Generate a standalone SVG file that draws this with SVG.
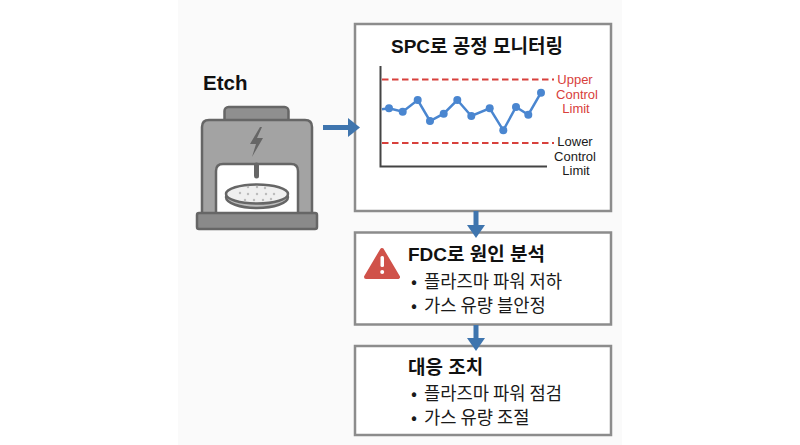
<svg xmlns="http://www.w3.org/2000/svg" width="800" height="445" viewBox="0 0 800 445">
<defs>
<style>
.k{font-family:"Liberation Sans","Noto Sans CJK KR",sans-serif}
.h{font-family:"Liberation Sans","Noto Sans CJK KR",sans-serif;font-weight:700;font-size:19px;fill:#111}
.b{font-family:"Noto Sans CJK KR",sans-serif;font-weight:400;font-size:17.700px;fill:#1a1a1a}
.box{fill:#fff;stroke:#8c8c8c;stroke-width:2.5}
.lim{font-family:"Liberation Sans",sans-serif;font-size:13px;text-anchor:middle}
.dash{stroke:#d8403c;stroke-width:2;stroke-dasharray:6.5 3.5;fill:none}
.ar{fill:#3f75ae}
.eq{stroke:#666;stroke-width:2.5}
</style>
</defs>
<rect width="800" height="445" fill="#fff"/>
<rect x="178" y="0" width="444" height="445" fill="#fafafa"/>
<g id="etch">
<text x="203" y="90" class="k" font-size="20.500" font-weight="700" fill="#111">Etch</text>
<rect x="224.500" y="107" width="64" height="16" rx="4" fill="#8f8f8f" class="eq"/>
<path d="M202 214V127q0-7 7-7h96q7 0 7 7v87z" fill="#a3a3a3" class="eq"/>
<path d="M216 214V171q0-7 7-7h68q7 0 7 7v43z" fill="#fff" class="eq"/>
<rect x="197" y="213" width="120" height="16" rx="2" fill="#8a8a8a" class="eq"/>
<path d="M260 127l-10 17h6l-4 13 11-19h-6l5-11z" fill="#666"/>
<line x1="256.500" y1="165" x2="256.500" y2="176" stroke="#666" stroke-width="5" stroke-linecap="round"/>
<ellipse cx="257" cy="197" rx="31" ry="11" fill="#bdbdbd" class="eq"/>
<ellipse cx="257" cy="194" rx="31" ry="9.500" fill="#efefef" class="eq"/>
<g fill="#bbb"><circle cx="240" cy="193" r="1.200"/><circle cx="248" cy="187" r="1.200"/><circle cx="257" cy="187" r="1.200"/><circle cx="265" cy="188" r="1.200"/><circle cx="248" cy="194" r="1.200"/><circle cx="257" cy="194" r="1.200"/><circle cx="266" cy="194" r="1.200"/><circle cx="274" cy="194" r="1.200"/><circle cx="245" cy="200" r="1.200"/><circle cx="254" cy="200" r="1.200"/><circle cx="263" cy="200" r="1.200"/><circle cx="271" cy="199" r="1.200"/></g>
</g>
<g id="spc">
<rect class="box" x="355" y="24" width="256" height="187"/>
<text x="391" y="53" class="h">SPC로 공정 모니터링</text>
<path d="M380.500 66V166.500H547" fill="none" stroke="#444" stroke-width="2"/>
<line class="dash" x1="382" y1="79.500" x2="554" y2="79.500"/>
<line class="dash" x1="382" y1="143" x2="554" y2="143"/>
<polyline fill="none" stroke="#4a86d0" stroke-width="2.500" points="382,109.300 389,108.300 402.700,111.700 417.700,100 430,121 443.700,113.700 457.300,100 471.300,116 489.700,108.300 503.300,130.300 516,107 528.300,114.700 541,92.700"/>
<g fill="#4a86d0"><circle cx="389" cy="108.300" r="4"/><circle cx="402.700" cy="111.700" r="4"/><circle cx="417.700" cy="100" r="4"/><circle cx="430" cy="121" r="4"/><circle cx="443.700" cy="113.700" r="4"/><circle cx="457.300" cy="100" r="4"/><circle cx="471.300" cy="116" r="4"/><circle cx="489.700" cy="108.300" r="4"/><circle cx="503.300" cy="130.300" r="4"/><circle cx="516" cy="107" r="4"/><circle cx="528.300" cy="114.700" r="4"/><circle cx="541" cy="92.700" r="4"/></g>
<g fill="#d8403c" class="lim"><text x="575" y="83.500">Upper</text><text x="577" y="98.500">Control</text><text x="576" y="113">Limit</text></g>
<g fill="#1a1a1a" class="lim"><text x="575" y="146">Lower</text><text x="575" y="161">Control</text><text x="576" y="175">Limit</text></g>
</g>
<g id="fdc">
<rect class="box" x="355" y="232.500" width="256" height="92"/>
<path d="M382 250L398 277H366Z" fill="#d0524a" stroke="#d0524a" stroke-width="4" stroke-linejoin="round"/>
<rect x="380.500" y="256" width="3.500" height="11" rx="1.500" fill="#fff"/><circle cx="382.200" cy="272" r="2" fill="#fff"/>
<text x="408" y="261" class="h">FDC로 원인 분석</text>
<text x="411" y="288" class="b">•</text><text x="424" y="288" class="b">플라즈마 파워 저하</text>
<text x="411" y="312" class="b">•</text><text x="424" y="312" class="b">가스 유량 블안정</text>
</g>
<g id="action">
<rect class="box" x="355" y="346" width="256" height="89"/>
<text x="408" y="374" class="h">대응 조치</text>
<text x="411" y="400" class="b">•</text><text x="424" y="400" class="b">플라즈마 파워 점검</text>
<text x="411" y="424" class="b">•</text><text x="424" y="424" class="b">가스 유량 조절</text>
</g>
<g id="connectors">
<line x1="323" y1="127.500" x2="349" y2="127.500" stroke="#3f75ae" stroke-width="5"/>
<path class="ar" d="M348 118l12 9.500-12 9.500z"/>
<rect class="ar" x="473.500" y="211" width="5" height="15"/>
<path class="ar" d="M467 225h18l-9 13z"/>
<rect class="ar" x="473.500" y="325" width="5" height="14"/>
<path class="ar" d="M467 338h18l-9 13z"/>
</g>
</svg>
